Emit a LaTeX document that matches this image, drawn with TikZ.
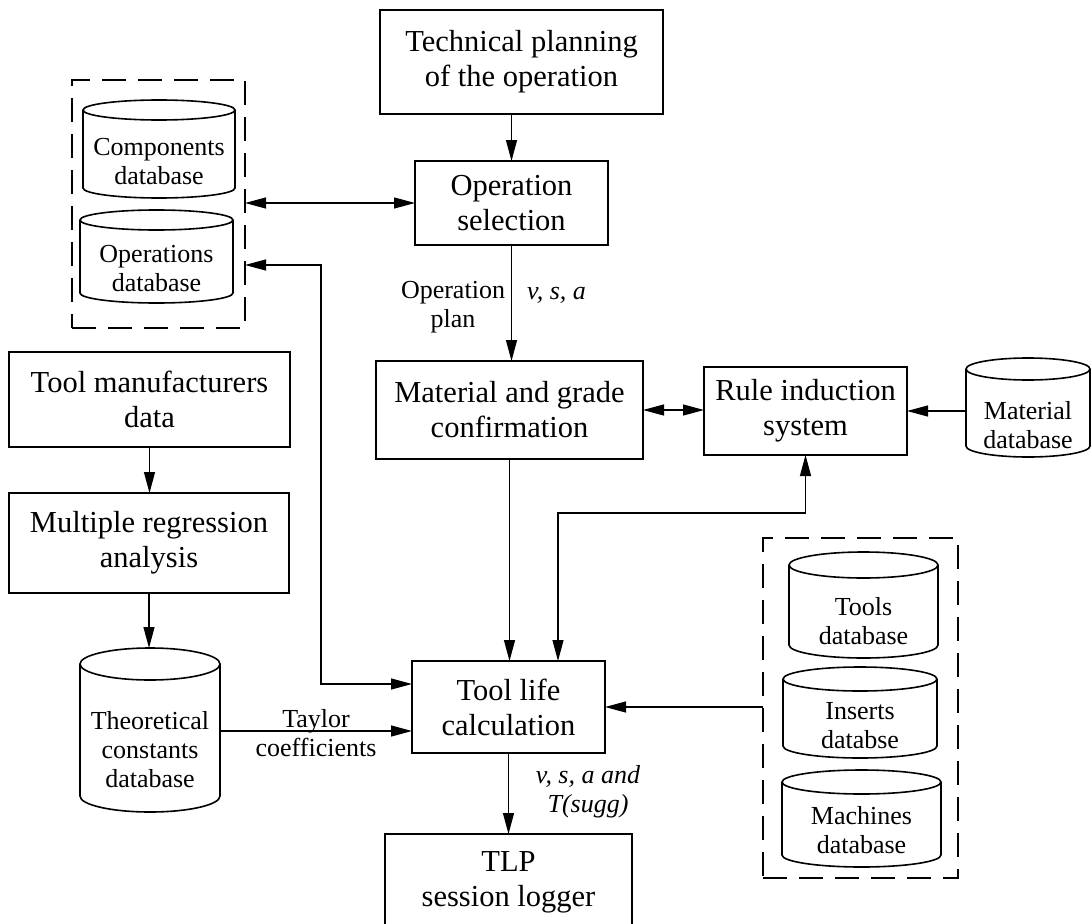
\documentclass[tikz,border=0pt]{standalone}
\usepackage{fontspec}
\setmainfont{Liberation Serif}
\usetikzlibrary{arrows.meta}

\newcommand\bigtext{\fontsize{30.5}{35}\selectfont}
\newcommand\smalltext{\fontsize{26}{29}\selectfont}

\tikzset{
  boxline/.style={line width=1.6pt},
  procbox/.style={draw, boxline, rectangle, align=center, inner sep=2pt, outer sep=0pt, font=\bigtext},
  cylbody/.style={rectangle, draw=none, inner sep=0pt, outer sep=0pt},
  dbtext/.style={align=center, inner sep=0pt, font=\smalltext},
  lbl/.style={align=center, inner sep=0pt, font=\smalltext},
  groupbox/.style={draw, line width=1.5pt, dash pattern=on 24pt off 12pt, rectangle, inner sep=0pt, outer sep=0pt},
  tip/.tip={Triangle[length=21pt, width=11pt]},
  conn/.style={line width=1.2pt, -tip},
  dbl/.style={line width=1.2pt, tip-tip},
}

% cylinder symbol: name, cx, cy, half width, height, cap radius, text shift, text
\newcommand\dbcyl[8]{%
  \node[cylbody, minimum width=2*#4pt, minimum height=#5pt] (#1) at (#2,#3) {};
  \draw[boxline] ([yshift=-#6pt]#1.north) ellipse [x radius=#4pt, y radius=#6pt];
  \draw[boxline] ([yshift=-#6pt]#1.north west) -- ([yshift=#6pt]#1.south west)
     arc[start angle=180, end angle=360, x radius=#4pt, y radius=#6pt]
     -- ([yshift=-#6pt]#1.north east);
  \node[dbtext] (#1-t) at ([yshift=-#7pt]#1.center) {#8};
}

\begin{document}
\begin{tikzpicture}[x=1pt, y=-1pt]
\useasboundingbox (0,0) rectangle (1091,923);
\fill[white] (0,0) rectangle (1091,923);
\clip (0,0) rectangle (1091,923);

% process boxes
\node[procbox, minimum width=283pt, minimum height=104pt] (tech) at (521.5,62) {Technical planning\\of the operation};
\node[procbox, minimum width=193pt, minimum height=84pt] (opsel) at (511.5,203) {Operation\\selection};
\node[procbox, minimum width=267pt, minimum height=98pt] (mat) at (509.5,410) {Material and grade\\confirmation};
\node[procbox, minimum width=203pt, minimum height=88pt] (rule) at (805.5,411) {Rule induction\\system};
\node[procbox, minimum width=281pt, minimum height=95pt] (toolman) at (149.5,399.5) {Tool manufacturers\\data};
\node[procbox, minimum width=280pt, minimum height=100pt] (mreg) at (149,543) {Multiple regression\\analysis};
\node[procbox, minimum width=193pt, minimum height=92pt] (toollife) at (508.5,707) {Tool life\\calculation};
\node[procbox, minimum width=247pt, minimum height=96pt] (tlp) at (508.5,882) {TLP\\session logger};

% database groups
\node[groupbox, minimum width=173pt, minimum height=248pt] (leftgrp) at (158.5,204) {};
\node[groupbox, minimum width=195pt, minimum height=340pt] (rightgrp) at (860.5,708) {};

% databases
\dbcyl{compdb}{159}{149}{76}{98}{10}{13}{Components\\database}
\dbcyl{opsdb}{156.5}{256.5}{76.5}{93}{10}{12}{Operations\\database}
\dbcyl{matdb}{1028}{407.5}{62}{99}{11}{18}{Material\\database}
\dbcyl{theodb}{150}{730}{70}{164}{16}{20}{Theoretical\\constants\\database}
\dbcyl{toolsdb}{863.5}{605}{74.5}{106}{13}{16}{Tools\\database}
\dbcyl{insdb}{860}{712.5}{77}{91}{12}{13}{Inserts\\databse}
\dbcyl{macdb}{861.5}{818.5}{79.5}{97}{12}{12}{Machines\\database}

% bend points
\coordinate (bendL) at (321,265);
\coordinate (bendR) at (558,513);

% connectors
\draw[conn] (opsel.north |- tech.south) -- (opsel.north);
\draw[dbl] (opsel.west -| leftgrp.east) -- (opsel.west);
\draw[conn] (opsel.south) -- (opsel.south |- mat.north);
\draw[dbl] (mat.east) -- (mat.east -| rule.west);
\draw[conn] (matdb.west |- rule.east) -- (rule.east);
\draw[conn] (mat.south) -- (mat.south |- toollife.north);
\draw[dbl] ([xshift=49.5pt]toollife.north) -- (bendR) -| (rule.south);
\draw[dbl] ([yshift=23pt]toollife.west) -| (bendL) -- (bendL -| leftgrp.east);
\draw[conn] (toolman.south) -- (toolman.south |- mreg.north);
\draw[conn] (mreg.south) -- (mreg.south |- theodb.north);
\draw[conn] (theodb.east |- 0,731) -- (toollife.west |- 0,731);
\draw[conn] (rightgrp.west |- toollife.east) -- (toollife.east);
\draw[conn] (toollife.south) -- (tlp.north);

% connector labels
\node[lbl] (oplan) at (453,307) {Operation\\plan};
\node[lbl, anchor=west] (vsa) at (527,295) {\itshape v, s, a};
\node[lbl] (taylor) at (316,733) {Taylor\\coefficients};
\node[lbl] (vsat) at (588,792) {\itshape v, s, a and\\\itshape T(sugg)};
\end{tikzpicture}
\end{document}
